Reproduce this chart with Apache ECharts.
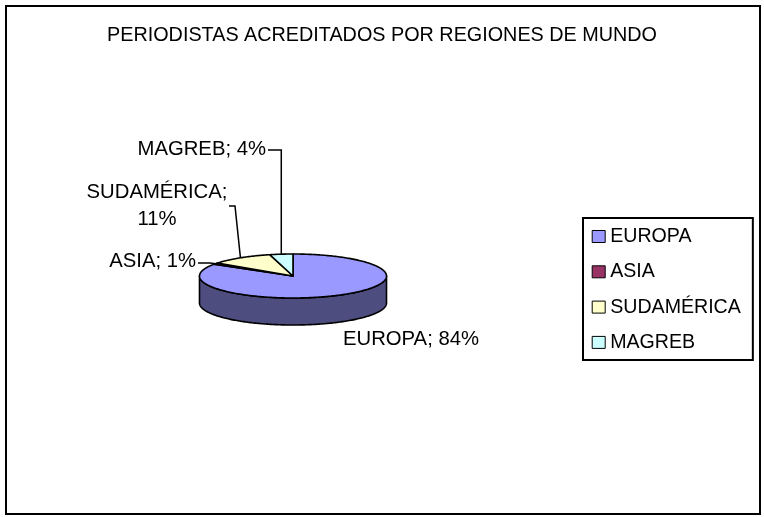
<!DOCTYPE html>
<html><head><meta charset="utf-8">
<script src="https://cdn.jsdelivr.net/npm/echarts@6/dist/echarts.min.js"></script>
<style>html,body{margin:0;padding:0;background:#fff}#c{width:764px;height:517px}</style>
</head><body><div id="c"></div>
<script>
// ---- data ----
const chartTitle = 'PERIODISTAS ACREDITADOS POR REGIONES DE MUNDO';
const categories = ['EUROPA', 'ASIA', 'SUDAMÉRICA', 'MAGREB'];
const values = [84, 1, 11, 4];
const labelTexts = ['EUROPA; 84%', 'ASIA; 1%', 'SUDAMÉRICA;\n11%', 'MAGREB; 4%'];

// ---- styles / layout ----
const colors = ['#9999FF', '#993366', '#FFFFCC', '#CCFFFF'];
const sideColors = ['#4D4D80', '#4D1A33', '#808066', '#668080'];
const FONT = '"Liberation Sans", Arial, sans-serif';
const pie = {cx: 293, cy: 276, rx: 93.5, ry: 22, depth: 27};
// label positions and leader bends (layout only)
const labelLayout = [
  {x: 411, y: 339, align: 'center', leader: null},
  {x: 196, y: 261, align: 'right', leader: [[210, 263], [198, 263]]},
  {x: 157, y: 206, align: 'center', leader: [[235, 206], [229, 206]]},
  {x: 266, y: 149, align: 'right', leader: [['vx', 150], [268, 150]]}
];

const total = values.reduce((a, b) => a + b, 0);
function pt(deg, dy) {
  const r = deg * Math.PI / 180;
  return [pie.cx + pie.rx * Math.sin(r), pie.cy - pie.ry * Math.cos(r) + (dy || 0)];
}
function arc(a, b, dy) {
  const pts = [];
  const n = Math.max(2, Math.ceil(Math.abs(b - a)));
  for (let k = 0; k <= n; k++) pts.push(pt(a + (b - a) * k / n, dy));
  return pts;
}

function render(i, v) {
  let before = 0;
  for (let k = 0; k < i; k++) before += values[k];
  const a = before / total * 360;
  const b = (before + v) / total * 360;
  const children = [];
  const sa = Math.max(a, 90), sb = Math.min(b, 270);
  if (sa < sb) {
    const top = arc(sa, sb, 0);
    const bot = arc(sb, sa, pie.depth);
    children.push({type: 'polygon', z2: 0, shape: {points: top.concat(bot)},
      style: {fill: sideColors[i], stroke: '#000', lineWidth: 1.6, lineJoin: 'round'}});
  }
  children.push({type: 'polygon', z2: 1, shape: {points: [[pie.cx, pie.cy]].concat(arc(a, b, 0))},
    style: {fill: colors[i], stroke: '#000', lineWidth: 1.6, lineJoin: 'round'}});
  const L = labelLayout[i];
  if (L.leader) {
    const anchor = pt((a + b) / 2, 0);
    const pts = [anchor].concat(L.leader.map(p => [p[0] === 'vx' ? anchor[0] : p[0], p[1]]));
    children.push({type: 'polyline', z2: 2, shape: {points: pts},
      style: {stroke: '#000', lineWidth: 1.5, fill: null}});
  }
  children.push({type: 'text', z2: 3, style: {text: labelTexts[i], x: L.x, y: L.y,
    align: L.align, verticalAlign: 'middle', fontFamily: FONT, fontSize: 20.3, lineHeight: 27, fill: '#000'}});
  return {type: 'group', children};
}

const chart = echarts.init(document.getElementById('c'), null, {renderer: 'canvas'});
chart.setOption({
  animation: false,
  backgroundColor: '#fff',
  title: {text: chartTitle, left: 'center', top: 25.5, padding: 0,
    textStyle: {fontFamily: FONT, fontSize: 19.8, fontWeight: 'normal', color: '#000', lineHeight: 20}},
  legend: {
    orient: 'vertical', left: 583, top: 218, padding: [8.5, 12, 7.6, 8.7],
    borderColor: '#000', borderWidth: 2, itemWidth: 13, itemHeight: 12, itemGap: 15.3,
    icon: 'rect', selectedMode: false,
    textStyle: {fontFamily: FONT, fontSize: 19.6, lineHeight: 20, color: '#000'},
    data: categories.map((n, i) => ({name: n, itemStyle: {color: colors[i], borderColor: '#000', borderWidth: 1}}))
  },
  graphic: [{type: 'rect', shape: {x: 6, y: 6, width: 754, height: 508},
    style: {fill: null, stroke: '#000', lineWidth: 2}}],
  series: categories.map((name, i) => ({
    type: 'custom', name, coordinateSystem: 'none', silent: true,
    itemStyle: {color: colors[i]},
    data: [values[i]],
    renderItem: (params, api) => render(i, api.value(0))
  }))
});
</script></body></html>
